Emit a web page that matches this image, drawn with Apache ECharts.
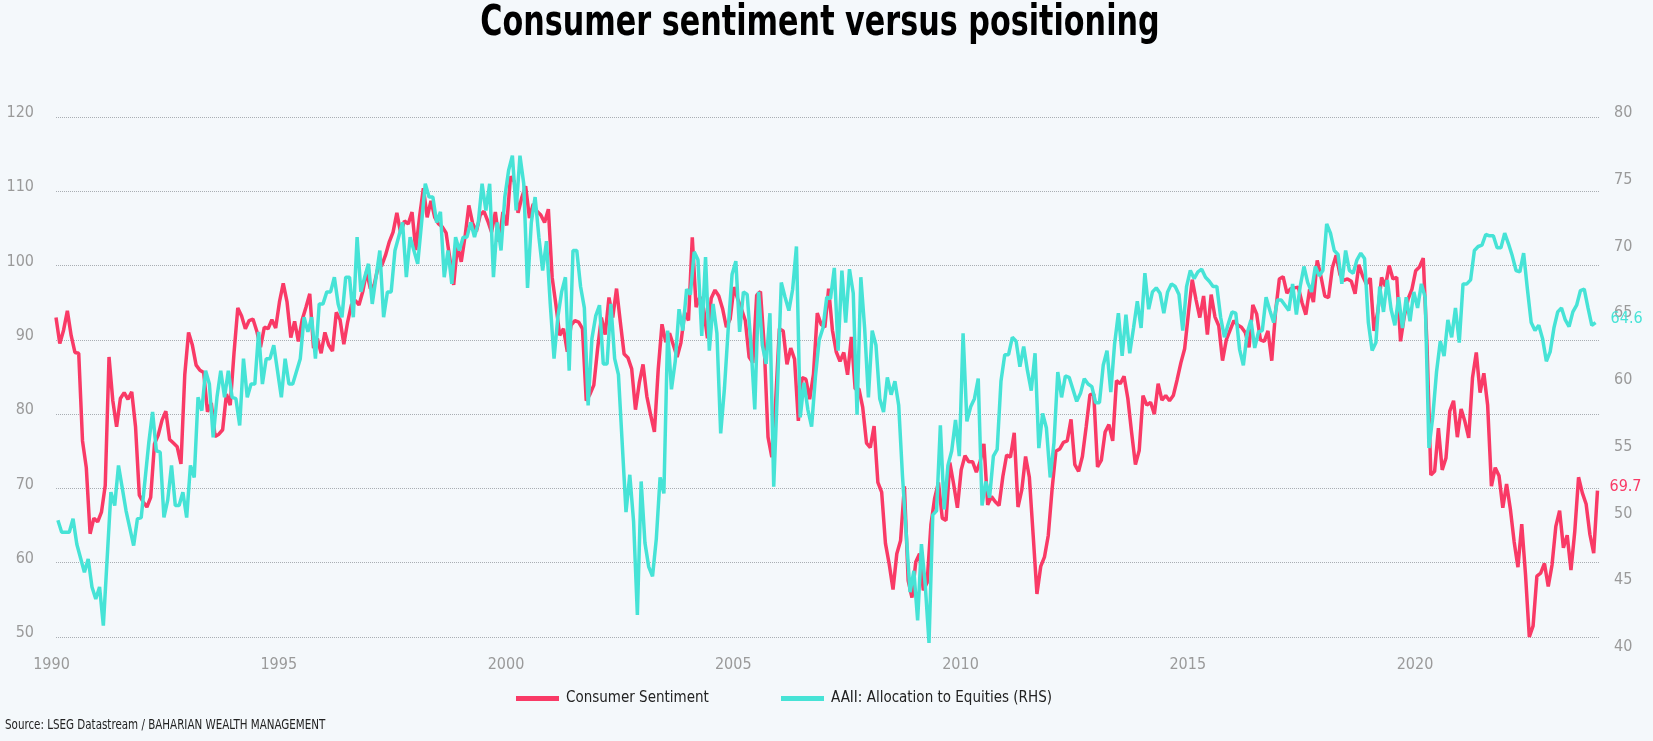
<!DOCTYPE html>
<html>
<head>
<meta charset="utf-8">
<title>Consumer sentiment versus positioning</title>
<script src="https://cdn.jsdelivr.net/npm/echarts@6/dist/echarts.min.js"></script>
<style>
  html, body { margin: 0; padding: 0; background: #f4f8fb; }
  #chart { width: 1653px; height: 741px; }
</style>
</head>
<body>
<div id="chart"></div>
<script>
// consumer sentiment, monthly, Jan 1990 .. Dec 2023 (one row per year)
var sentiment = [
  93.0, 89.5, 91.3, 93.9, 90.6, 88.3, 88.2, 76.4, 72.8, 63.9, 66.0, 65.5,
  66.8, 70.4, 87.7, 81.8, 78.3, 82.1, 82.9, 82.0, 83.0, 78.3, 69.1, 68.2,
  67.5, 68.8, 76.0, 77.2, 79.2, 80.4, 76.6, 76.1, 75.6, 73.3, 85.3, 91.0,
  89.3, 86.6, 85.9, 85.6, 80.3, 81.5, 77.0, 77.3, 77.9, 82.7, 81.2, 88.2,
  94.3, 93.2, 91.5, 92.6, 92.8, 91.2, 89.0, 91.7, 91.5, 92.7, 91.6, 95.1,
  97.6, 95.1, 90.3, 92.5, 89.8, 92.7, 94.4, 96.2, 88.9, 90.2, 88.2, 91.0,
  89.3, 88.5, 93.7, 92.7, 89.4, 92.4, 94.7, 95.3, 94.7, 96.5, 99.2, 96.9,
  97.4, 99.7, 100.0, 101.4, 103.2, 104.5, 107.1, 104.4, 106.0, 105.6, 107.2, 102.1,
  106.6, 110.4, 106.5, 108.7, 106.5, 105.6, 105.2, 104.4, 100.9, 97.4, 102.7, 100.5,
  103.9, 108.1, 105.7, 104.6, 106.8, 107.3, 106.0, 104.5, 107.2, 103.2, 107.2, 105.4,
  112.0, 111.3, 107.1, 109.2, 110.7, 106.4, 108.3, 107.3, 106.8, 105.8, 107.6, 98.4,
  94.7, 90.6, 91.5, 88.4, 92.0, 92.6, 92.4, 91.5, 81.8, 82.7, 83.9, 88.8,
  93.0, 90.7, 95.7, 93.0, 96.9, 92.4, 88.1, 87.6, 86.1, 80.6, 84.2, 86.7,
  82.4, 79.9, 77.6, 86.0, 92.1, 89.7, 90.9, 89.3, 87.7, 89.6, 93.7, 92.6,
  103.8, 94.4, 95.8, 94.2, 90.2, 95.6, 96.7, 95.9, 94.2, 91.7, 92.8, 97.1,
  95.5, 94.1, 92.6, 87.7, 86.9, 96.0, 96.5, 89.1, 76.9, 74.2, 81.6, 91.5,
  91.2, 86.7, 88.9, 87.4, 79.1, 84.9, 84.7, 82.0, 85.4, 93.6, 92.1, 91.7,
  96.9, 91.3, 88.4, 87.1, 88.3, 85.3, 90.4, 83.4, 83.4, 80.9, 76.1, 75.5,
  78.4, 70.8, 69.5, 62.6, 59.8, 56.4, 61.2, 63.0, 70.3, 57.6, 55.3, 60.1,
  61.2, 56.3, 57.3, 65.1, 68.7, 70.8, 66.0, 65.7, 73.5, 70.6, 67.4, 72.5,
  74.4, 73.6, 73.6, 72.2, 73.6, 76.0, 67.8, 68.9, 68.2, 67.7, 71.6, 74.5,
  74.2, 77.5, 67.5, 69.8, 74.3, 71.5, 63.7, 55.8, 59.5, 60.8, 63.7, 69.9,
  75.0, 75.3, 76.2, 76.4, 79.3, 73.2, 72.3, 74.3, 78.3, 82.6, 82.7, 72.9,
  73.8, 77.6, 78.6, 76.4, 84.5, 84.1, 85.1, 82.1, 77.5, 73.2, 75.1, 82.5,
  81.2, 81.6, 80.0, 84.1, 81.9, 82.5, 81.8, 82.5, 84.6, 86.9, 88.8, 93.6,
  98.1, 95.4, 93.0, 95.9, 90.7, 96.1, 93.1, 91.9, 87.2, 90.0, 91.3, 92.6,
  92.0, 91.7, 91.0, 89.0, 94.7, 93.5, 90.0, 89.8, 91.2, 87.2, 93.8, 98.2,
  98.5, 96.3, 96.9, 97.0, 97.1, 95.0, 93.4, 96.8, 95.1, 100.7, 98.5, 95.9,
  95.7, 99.7, 101.4, 98.8, 98.0, 98.2, 97.9, 96.2, 100.1, 98.6, 97.5, 98.3,
  91.2, 93.8, 98.4, 97.2, 100.0, 98.2, 98.4, 89.8, 93.2, 95.5, 96.8, 99.3,
  99.8, 101.0, 89.1, 71.8, 72.3, 78.1, 72.5, 74.1, 80.4, 81.8, 76.9, 80.7,
  79.0, 76.8, 84.9, 88.3, 82.9, 85.5, 81.2, 70.3, 72.8, 71.7, 67.4, 70.6,
  67.2, 62.8, 59.4, 65.2, 58.4, 50.0, 51.5, 58.2, 58.6, 59.9, 56.8, 59.7,
  64.9, 67.0, 62.0, 63.7, 59.0, 64.2, 71.5, 69.4, 67.9, 63.8, 61.3, 69.7
]

// AAII allocation to equities (%), monthly, Jan 1990 .. Nov 2023, null = not read
var allocation = [
  49.8, 48.9, null, 48.9, 49.9, 48.0, null, 45.9, 46.9, 44.8, 43.9, 44.8,
  41.9, null, 51.9, 50.9, 53.9, null, 50.5, null, 47.9, 49.9, 50.0, null,
  55.6, 57.9, 55.0, 54.9, 50.0, 51.3, 53.9, 50.9, 50.9, 51.9, 50.0, 53.9,
  53.0, 59.0, 58.0, 61.0, 60.0, 56.0, 59.0, 61.0, 59.0, 61.0, 59.0, 58.9,
  56.9, 61.9, 59.0, 60.0, 60.0, 63.9, 60.0, 61.9, 61.9, 62.9, null, 59.0,
  61.9, 60.0, 60.0, null, 61.9, 65.0, 63.9, 65.0, 61.9, 66.0, 66.0, 66.9,
  66.9, 68.0, 66.0, 65.0, 68.0, 68.0, 65.0, 71.0, 66.9, 68.0, 69.0, 66.0,
  null, 70.0, 65.0, 66.9, 66.9, 70.0, null, 72.1, 68.0, 71.0, null, 69.0,
  null, 75.0, 74.0, 74.0, 72.1, 72.9, 68.0, 70.0, 67.5, 71.0, 70.0, 71.0,
  71.0, 72.1, 71.0, 72.1, 75.0, 73.0, 75.0, 68.0, 72.1, 70.0, 74.0, 76.0,
  77.1, 73.0, 77.1, 75.0, 67.2, 72.1, 74.0, 71.0, 68.5, 70.7, 66.0, 61.9,
  65.0, 66.9, 68.0, 61.0, 70.0, 70.0, 67.3, 65.7, 58.4, 63.4, 65.1, 65.9,
  61.5, 61.5, 66.0, 61.9, 60.7, null, 50.4, 53.2, 49.7, 42.7, 52.7, 48.1,
  46.3, 45.6, 48.4, 53.0, 51.8, 64.0, 59.6, 61.7, 65.6, 64.0, 67.1, 66.7,
  69.9, 69.3, 63.6, 69.5, 62.5, 66.0, 63.8, 56.3, 59.7, 64.2, 68.2, 69.2,
  63.9, 66.9, 66.7, 62.9, 58.1, 66.9, 62.9, 61.5, 65.3, 52.3, 59.7, 67.6,
  66.5, 65.5, 67.1, 70.3, 57.5, 60.1, 58.1, 56.8, 60.5, 63.3, 64.2, 66.5,
  66.4, 68.7, 62.5, 68.5, 64.6, 68.6, 66.8, 57.7, 68.0, 64.2, 59.0, 64.0,
  62.9, 58.9, 57.9, 60.5, 59.2, 60.2, 58.4, 53.1, null, 44.4, 46.0, 42.3,
  48.0, 45.0, 40.6, 50.2, 50.5, 56.9, 50.6, 53.9, 55.0, 57.3, 54.6, 63.8,
  57.2, 58.3, 58.9, 60.4, 50.9, 52.7, 51.5, 54.6, 55.1, 60.2, 62.2, 62.2,
  63.5, 63.2, 61.3, 62.8, 61.0, 59.5, 62.3, 55.2, 57.8, 56.7, 53.0, 55.6,
  60.9, 59.0, 60.6, 60.5, null, 58.7, 59.3, 60.4, 60.0, 59.8, 58.6, 58.6,
  61.4, 62.5, 59.4, 63.0, 65.3, 62.1, 65.2, 62.3, 64.2, 66.2, 64.2, 68.3,
  65.6, 66.9, 67.2, 66.8, 65.3, 66.9, 67.5, 67.3, 66.7, 64.0, 67.3, 68.5,
  67.9, 68.4, 68.6, 68.0, 67.7, 67.3, 67.3, 65.0, 63.5, 64.5, 65.4, 65.3,
  62.6, 61.4, 63.8, 64.8, 62.7, 63.9, 64.0, 66.5, 65.5, 64.6, 66.3, 66.3,
  65.9, 65.5, 67.5, 65.2, 67.3, 68.8, 67.6, 66.9, 68.8, 68.1, 68.5, 72.0,
  71.3, 70.0, 69.7, 67.5, 70.0, 68.5, 68.3, 69.3, 69.8, 69.4, 64.6, 62.5,
  63.1, 67.3, 65.4, 67.8, 65.6, 64.4, 66.5, 64.2, 66.5, 64.7, 66.9, 65.7,
  67.5, 66.5, 55.2, 57.5, 60.9, 63.2, 62.1, 64.8, 63.5, 65.7, 63.1, 67.5,
  67.5, 67.8, 70.0, 70.3, 70.4, 71.2, 71.1, 71.1, 70.2, 70.2, 71.3, 70.5,
  69.6, 68.5, 68.4, 69.8, 67.1, 64.6, 64.0, 64.4, 63.4, 61.7, 62.4, 64.2,
  65.4, 65.7, 64.8, 64.3, 65.4, 65.9, 67.0, 67.1, 65.7, 64.4, 64.6
]

var startYear = 1990
var seriesNames = ['Consumer Sentiment', 'AAII: Allocation to Equities (RHS)']
var titleText = 'Consumer sentiment versus positioning'
var sourceText = 'Source: LSEG Datastream / BAHARIAN WEALTH MANAGEMENT'

var narrow = '"Liberation Sans Narrow", "Arial Narrow", "DejaVu Sans Condensed", sans-serif'
var red = '#f93a66'
var cyan = '#46e3d6'

// month index -> decimal year (the allocation readings sit half a month later)
var sentimentData = sentiment.map(function (v, i) { return [startYear + i / 12, v] })
var allocationData = allocation.map(function (v, i) { return [startYear + (i + 0.5) / 12, v] })

var axisText = { color: '#9a9a9a', fontFamily: narrow, fontSize: 16 }
var legendText = { fontFamily: narrow, fontSize: 15, color: '#222', padding: [0, 0, 0, 2] }
// y labels sit a few px above their tick
var raised = { verticalAlign: 'bottom', lineHeight: 8 }

var option = {
  backgroundColor: '#f4f8fb',
  animation: false,
  grid: [
    { left: 56, right: 54, top: 117, bottom: 104 },
    { left: 56, right: 54, top: 117, bottom: 90 }
  ],
  xAxis: [{
    type: 'value',
    gridIndex: 0,
    min: 1990,
    max: 2023.95,
    interval: 5,
    axisLine: { show: false },
    axisTick: { show: false },
    splitLine: { show: false },
    axisLabel: Object.assign({
      margin: 20,
      showMaxLabel: false,
      padding: [0, 9, 0, 0],
      formatter: function (v) { return v % 5 === 0 ? String(v) : '' }
    }, axisText)
  }, {
    type: 'value',
    gridIndex: 1,
    min: 1990,
    max: 2023.95,
    show: false
  }],
  yAxis: [{
    type: 'value',
    gridIndex: 0,
    position: 'left',
    min: 50,
    max: 120,
    interval: 10,
    axisLine: { show: false },
    axisTick: { show: false },
    splitLine: { lineStyle: { type: 'dotted', color: '#a9aeb3', width: 1 } },
    axisLabel: Object.assign({ margin: 22 }, axisText, raised)
  }, {
    type: 'value',
    gridIndex: 1,
    position: 'right',
    min: 40,
    max: 80,
    interval: 5,
    axisLine: { show: false },
    axisTick: { show: false },
    splitLine: { show: false },
    axisLabel: Object.assign({ margin: 15 }, axisText, raised)
  }],
  legend: [{
    left: 511,
    top: 686,
    data: [seriesNames[0]],
    icon: 'rect',
    itemWidth: 43,
    itemHeight: 5,
    textStyle: legendText
  }, {
    left: 776,
    top: 686,
    data: [seriesNames[1]],
    icon: 'rect',
    itemWidth: 43,
    itemHeight: 5,
    textStyle: legendText
  }],
  graphic: [{
    // condensed heavy title
    type: 'text',
    x: 820,
    y: 24,
    scaleX: 0.8,
    style: {
      text: titleText,
      textAlign: 'center',
      textVerticalAlign: 'middle',
      fill: '#000',
      font: 'bold 42px ' + narrow
    }
  }, {
    type: 'text',
    x: 5,
    y: 725,
    scaleX: 0.82,
    style: {
      text: sourceText,
      textVerticalAlign: 'middle',
      fill: '#222',
      font: '14px ' + narrow
    }
  }],
  series: [{
    name: seriesNames[0],
    type: 'line',
    xAxisIndex: 0,
    yAxisIndex: 0,
    data: sentimentData,
    showSymbol: false,
    color: red,
    lineStyle: { width: 3.5, color: red },
    endLabel: Object.assign({
      show: true,
      distance: 12,
      color: red,
      fontFamily: narrow,
      fontSize: 16,
      formatter: function (p) { return p.value[1].toFixed(1) }
    }, raised)
  }, {
    name: seriesNames[1],
    type: 'line',
    xAxisIndex: 1,
    yAxisIndex: 1,
    data: allocationData,
    connectNulls: true,
    showSymbol: false,
    color: cyan,
    lineStyle: { width: 3.5, color: cyan },
    endLabel: Object.assign({
      show: true,
      distance: 15,
      color: cyan,
      fontFamily: narrow,
      fontSize: 16,
      formatter: function (p) { return p.value[1].toFixed(1) }
    }, raised)
  }]
}

var chart = echarts.init(document.getElementById('chart'))
chart.setOption(option)
</script>
</body>
</html>
